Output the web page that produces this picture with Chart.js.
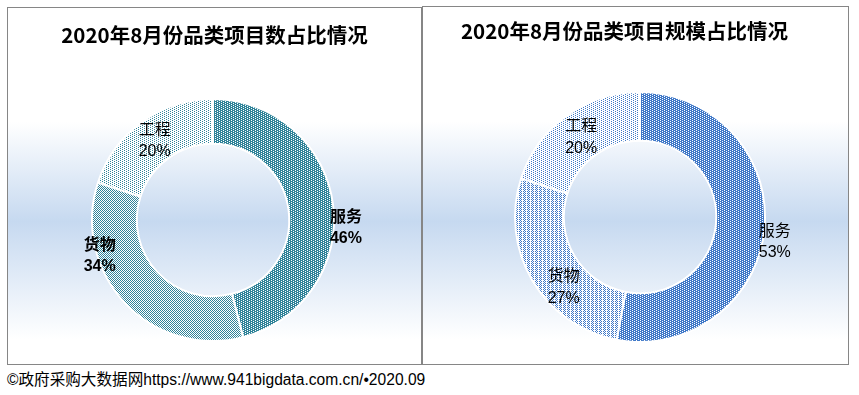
<!DOCTYPE html>
<html>
<head>
<meta charset="utf-8">
<script src="https://cdn.jsdelivr.net/npm/chart.js@4/dist/chart.umd.min.js"></script>
<style>
  html, body { margin:0; padding:0; background:#fff; width:859px; height:395px; overflow:hidden; }
  body { position:relative; font-family:"Noto Sans CJK SC", "Noto Sans", sans-serif; }
  .panel { position:absolute; box-sizing:border-box; border:1px solid #868686;
    background:linear-gradient(to bottom, #ffffff 0%, #ffffff 32%, #c6d9f0 60%, #ffffff 93%, #ffffff 100%); }
  .panel canvas { position:absolute; left:0; top:0; }
  .title { position:absolute; font-size:20.5px; font-weight:bold; line-height:24px; color:#000; text-align:center; white-space:nowrap; }
  .footer { position:absolute; left:7px; top:370px; font-size:15.6px; line-height:20px; color:#000; white-space:nowrap;
    font-family:"Liberation Sans", "Noto Sans CJK SC", sans-serif; }
</style>
</head>
<body>
<div class="panel" id="p1" style="left:7px; top:7px; width:415px; height:358px;"><canvas id="c1" width="413" height="356"></canvas></div>
<div class="panel" id="p2" style="left:422px; top:6px; width:427px; height:359px;"><canvas id="c2" width="425" height="357"></canvas></div>
<div class="title" id="t1" style="left:7px; width:415px; top:22px;"></div>
<div class="title" id="t2" style="left:424px; width:401px; top:18px;"></div>
<div class="footer" id="foot"></div>
<script>
// ---- data ----
const categories = ['服务', '货物', '工程'];
const countShare = [46, 34, 20];   // 项目数占比 (%)
const scaleShare = [53, 27, 20];   // 项目规模占比 (%)
const titles = ['2020年8月份品类项目数占比情况', '2020年8月份品类项目规模占比情况'];
const footerText = '©政府采购大数据网https://www.941bigdata.com.cn/•2020.09';

document.getElementById('t1').textContent = titles[0];
document.getElementById('t2').textContent = titles[1];
document.getElementById('foot').textContent = footerText;

// ---- pattern helpers ----
function makePattern(rows, color) {
  const h = rows.length, w = rows[0].length;
  const c = document.createElement('canvas');
  c.width = w; c.height = h;
  const g = c.getContext('2d');
  g.fillStyle = '#ffffff';
  g.fillRect(0, 0, w, h);
  g.fillStyle = color;
  for (let y = 0; y < h; y++) for (let x = 0; x < w; x++) if (rows[y][x] === 'X') g.fillRect(x, y, 1, 1);
  return document.createElement('canvas').getContext('2d').createPattern(c, 'repeat');
}
const teal = '#2f8399';
const blue = '#3f78c8';
const pat75 = ['XXX.', 'X.XX'];
const pat50 = ['X.', '.X'];
const pat38 = ['X.X.', '.X..'];
const pat25 = ['X...', '..X.'];

const leftColors = [makePattern(pat75, teal), makePattern(pat50, teal), makePattern(pat25, teal)];
const rightColors = [makePattern(pat75, blue), makePattern(pat38, blue), makePattern(pat25, blue)];

// label placement style (radius factor of outer radius, angle shift in degrees, bold)
const leftLabelStyle = { r: [1.10, 0.98, 0.82], shift: [10, 26, 0], bold: [true, true, false] };
const rightLabelStyle = { r: [1.095, 0.825, 0.80], shift: [4.6, -11.7, 0], bold: [false, false, false] };

const labelPlugin = {
  id: 'sliceLabels',
  afterDatasetsDraw(chart) {
    const st = chart.options.plugins.sliceLabels;
    const ctx = chart.ctx;
    const meta = chart.getDatasetMeta(0);
    const data = chart.data.datasets[0].data;
    ctx.save();
    ctx.fillStyle = '#000';
    ctx.textAlign = 'center';
    ctx.textBaseline = 'middle';
    meta.data.forEach((arc, i) => {
      const p = arc.getProps(['x', 'y', 'startAngle', 'endAngle', 'outerRadius'], true);
      const a = (p.startAngle + p.endAngle) / 2 + st.shift[i] * Math.PI / 180;
      const r = p.outerRadius * st.r[i];
      const x = p.x + Math.cos(a) * r;
      const y = p.y + Math.sin(a) * r;
      ctx.font = (st.bold[i] ? 'bold ' : '') + '16px "Noto Sans CJK SC"';
      ctx.fillText(chart.data.labels[i], x, y - 11);
      ctx.font = (st.bold[i] ? 'bold ' : '') + '16px "Liberation Sans", "Noto Sans CJK SC"';
      ctx.fillText(data[i] + '%', x, y + 12);
    });
    ctx.restore();
  }
};

function makeChart(id, values, colors, cutout, padding, labelStyle) {
  return new Chart(document.getElementById(id), {
    type: 'doughnut',
    data: {
      labels: categories,
      datasets: [{
        data: values,
        backgroundColor: colors,
        borderColor: '#ffffff',
        borderWidth: 2,
        hoverOffset: 0
      }]
    },
    options: {
      responsive: false,
      animation: false,
      cutout: cutout,
      layout: { padding: padding },
      plugins: {
        legend: { display: false },
        tooltip: { enabled: false },
        title: { display: false },
        sliceLabels: labelStyle
      }
    },
    plugins: [labelPlugin]
  });
}

makeChart('c1', countShare, leftColors, '63%', { top: 90, bottom: 22, left: 0, right: 3 }, leftLabelStyle);
makeChart('c2', scaleShare, rightColors, '61%', { top: 84, bottom: 21, left: 9, right: 0 }, rightLabelStyle);
</script>
</body>
</html>
